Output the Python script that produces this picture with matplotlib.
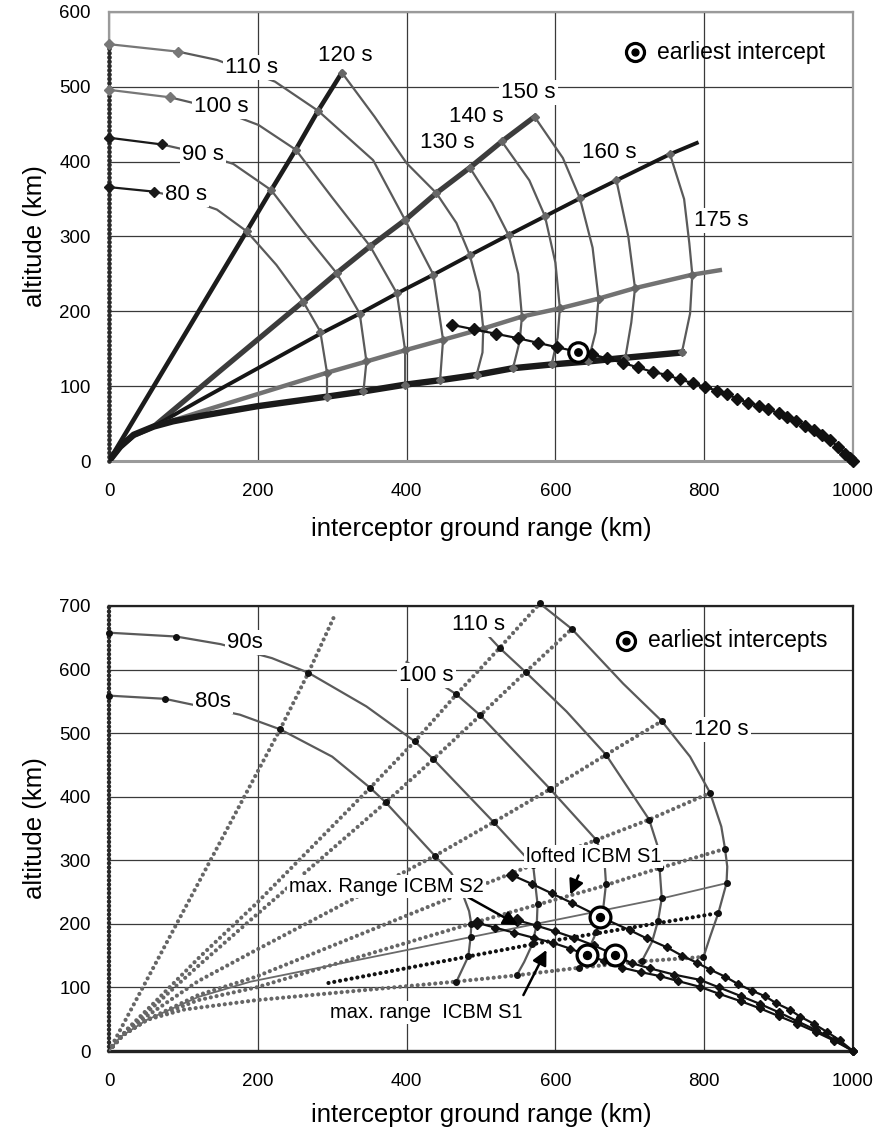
import matplotlib
matplotlib.use("Agg")
import matplotlib.pyplot as plt

plt.rcParams["font.family"] = ["Liberation Sans", "DejaVu Sans"]

# ── top panel: interceptor fly-out rays (km)
t_r0_x = [0, 0]
t_r0_y = [0, 557]
t_r1_x = [0, 185, 218, 251, 281, 313]
t_r1_y = [0, 307, 362, 416, 468, 519]
t_r2_x = [0, 15, 33, 60, 150, 261, 306, 351, 398, 440, 485, 528, 572]
t_r2_y = [0, 19, 34, 46, 121, 213, 251, 287, 322, 358, 392, 427, 460]
t_r3_x = [0, 15, 33, 60, 120, 284, 337, 387, 436, 485, 537, 586, 633, 682, 754, 790]
t_r3_y = [0, 19, 35, 46, 80, 170, 197, 224, 249, 275, 302, 327, 351, 375, 410, 425]
t_r4_x = [0, 15, 33, 60, 130, 293, 346, 398, 449, 503, 555, 606, 658, 707, 784, 821]
t_r4_y = [0, 19, 35, 46, 68, 118, 133, 148, 162, 177, 193, 204, 217, 231, 249, 255]
t_r5_x = [0, 15, 33, 60, 86, 122, 198, 293, 342, 398, 445, 494, 543, 595, 644, 694, 770]
t_r5_y = [0, 19, 35, 46, 53, 60, 73, 86, 93, 102, 108, 115, 124, 129, 133, 138, 145]

# ── top panel: constant-time arcs
t_arcs = {
    "80 s": ([0, 60, 105, 145, 185, 225, 261, 284, 293, 293],
             [366, 360, 350, 336, 307, 262, 213, 173, 118, 86]),
    "90 s": ([0, 71, 120, 167, 218, 262, 306, 337, 346, 342],
             [432, 423, 412, 397, 362, 305, 251, 197, 133, 93]),
    "100 s": ([0, 82, 140, 201, 251, 300, 351, 387, 398, 398],
              [496, 486, 472, 449, 416, 352, 287, 224, 148, 102]),
    "110 s": ([0, 93, 145, 223, 281, 355, 398, 436, 449, 445],
              [557, 547, 536, 507, 468, 402, 322, 249, 162, 108]),
    "120 s": ([313, 357, 400, 440, 467, 485, 498, 503, 502, 494],
              [519, 460, 398, 358, 318, 275, 226, 177, 145, 115]),
    "130 s": ([485, 515, 537, 550, 555, 552, 543],
              [392, 345, 302, 250, 193, 160, 124]),
    "140 s": ([528, 565, 586, 600, 606, 603, 595],
              [427, 375, 327, 265, 204, 165, 129]),
    "150 s": ([572, 610, 633, 650, 658, 654, 644],
              [460, 405, 351, 285, 217, 172, 133]),
    "160 s": ([682, 698, 707, 702, 694],
              [375, 300, 231, 185, 138]),
    "175 s": ([754, 773, 780, 784, 781, 770],
              [410, 350, 291, 249, 197, 145]),
}
t_arc_marks = {
    "80 s": [4, 6, 7, 8, 9], "90 s": [4, 6, 7, 8, 9],
    "100 s": [4, 6, 7, 8, 9], "110 s": [4, 6, 7, 8, 9],
    "120 s": [0, 3, 5, 7, 9], "130 s": [0, 2, 4, 6], "140 s": [0, 2, 4, 6],
    "150 s": [0, 2, 4, 6], "160 s": [0, 2, 4], "175 s": [0, 3, 5],
}
t_from_axis = ["80 s", "90 s", "100 s", "110 s"]
t_lab_pos = {
    "80 s": (103, 356), "90 s": (126, 409), "100 s": (151, 474), "110 s": (192, 526),
    "120 s": (317, 542), "130 s": (454, 425), "140 s": (494, 460), "150 s": (564, 492),
    "160 s": (672, 412), "175 s": (823, 322),
}

# ── top panel: ICBM trajectory
t_icbm_x = [461, 490, 520, 550, 576, 602, 630, 649, 669, 691, 711, 731, 750, 767, 785,
            801, 817, 830, 844, 859, 873, 886, 900, 911, 924, 935, 947, 958, 969, 980,
            989, 996, 1000]
t_icbm_y = [182, 176, 170, 164, 158, 152, 146, 143, 137, 131, 125, 119, 115, 109, 104,
            99, 94, 90, 83, 78, 74, 69, 64, 59, 54, 47, 41, 35, 28, 19, 10, 4, 0]
t_hit = (630, 145)

# ── bottom panel: rays
b_r0_x = [0, 0]
b_r0_y = [0, 700]
b_rays = [
    ([0, 230, 268, 304], [0, 506, 595, 687]),
    ([0, 25, 60, 122, 198, 351, 411, 467, 525, 579], [0, 35, 75, 148, 232, 414, 487, 561, 634, 704]),
    ([0, 25, 60, 122, 198, 372, 436, 499, 560, 622], [0, 33, 70, 136, 214, 391, 459, 528, 596, 664]),
    ([0, 25, 51, 120, 198, 438, 517, 593, 668, 743], [0, 33, 55, 110, 159, 307, 360, 412, 466, 519]),
    ([0, 15, 51, 120, 198, 480, 570, 655, 726, 808], [0, 22, 49, 88, 117, 251, 293, 332, 364, 406]),
    ([0, 15, 51, 120, 198, 500, 660, 735, 828], [0, 22, 49, 80, 100, 205, 258, 286, 318]),
    ([0, 15, 51, 100, 198, 465, 548, 632, 716, 799], [0, 22, 49, 65, 80, 109, 119, 131, 141, 148]),
]
b_thin_x = [0, 15, 51, 120, 190, 743, 830]
b_thin_y = [0, 22, 49, 85, 109, 240, 264]
b_black_x = [295, 579, 819]
b_black_y = [107, 170, 217]

b_arcs = {
    "80s": ([0, 75, 176, 230, 300, 351, 372, 438, 460, 474, 484, 487, 486, 483, 467],
            [559, 554, 529, 506, 463, 414, 391, 307, 280, 251, 220, 199, 179, 149, 109]),
    "90s": ([0, 90, 150, 219, 268, 346, 411, 436, 517, 550, 570, 576, 575, 569, 558, 548],
            [658, 652, 640, 618, 595, 542, 487, 459, 360, 318, 293, 231, 200, 168, 140, 119]),
    "100 s": ([400, 467, 499, 593, 655, 666, 668, 664, 655, 645, 632],
              [612, 561, 528, 412, 332, 298, 263, 221, 187, 160, 131]),
    "110 s": ([498, 525, 560, 615, 668, 726, 738, 740, 743, 738, 730, 716],
              [668, 634, 596, 534, 466, 364, 320, 288, 240, 205, 172, 141]),
    "120 s": ([572, 579, 622, 691, 743, 781, 808, 823, 828, 831, 830, 819, 808, 799],
              [712, 704, 664, 578, 519, 463, 406, 353, 318, 290, 264, 217, 180, 148]),
}
b_arc_marks = {
    "80s": [0, 1, 3, 5, 6, 7, 9, 11, 12, 13, 14],
    "90s": [0, 1, 4, 6, 7, 8, 10, 11, 12, 13, 15],
    "100 s": [1, 2, 3, 4, 6, 7, 8, 10],
    "110 s": [1, 2, 4, 5, 7, 8, 9, 11],
    "120 s": [1, 2, 4, 6, 8, 10, 11, 13],
}
b_lab_pos = {"80s": (140, 550), "90s": (183, 643), "100 s": (427, 590),
             "110 s": (496, 671), "120 s": (823, 506)}

# ── bottom panel: ICBM trajectories
b_loft_x = [541, 568, 595, 622, 660, 700, 723, 750, 770, 790, 808, 828, 846, 864, 882,
            897, 915, 929, 947, 965, 982, 1000]
b_loft_y = [277, 263, 248, 233, 211, 190, 177, 163, 150, 139, 128, 117, 105, 95, 86,
            75, 65, 54, 43, 30, 17, 0]
b_s1_x = [494, 519, 545, 571, 597, 620, 642, 665, 690, 715, 740, 765, 794, 820, 850,
          875, 900, 925, 950, 975, 1000]
b_s1_y = [202, 194, 186, 178, 170, 161, 151, 142, 131, 124, 118, 110, 101, 90, 78,
          67, 55, 43, 30, 16, 0]
b_s2_x = [548, 575, 600, 625, 652, 680, 703, 727, 760, 794, 820, 850, 875, 900, 925,
          950, 975, 1000]
b_s2_y = [206, 197, 188, 178, 166, 151, 138, 130, 120, 112, 100, 86, 74, 61, 47,
          33, 18, 0]
b_hits = [(660, 211), (642, 151), (680, 151)]

GRID = "#3a3a3a"
ARC = "#5a5a5a"
LAB = dict(facecolor="white", edgecolor="none", pad=1.5)


def style_axes(ax, ymax, frame, bottom_lw, xlabelpad):
    ax.set_xlim(0, 1000)
    ax.set_ylim(0, ymax)
    ax.set_xticks(range(0, 1001, 200))
    ax.set_yticks(range(0, ymax + 1, 100))
    ax.grid(color=GRID, lw=0.9)
    ax.set_axisbelow(True)
    ax.tick_params(length=0, labelsize=13.5)
    ax.tick_params(axis="x", pad=16)
    ax.tick_params(axis="y", pad=13)
    for s in ax.spines.values():
        s.set_color(frame)
        s.set_linewidth(1.6)
    ax.spines["bottom"].set_linewidth(bottom_lw)
    ax.set_xlabel("interceptor ground range (km)", fontsize=18.5, labelpad=xlabelpad)
    ax.set_ylabel("altitude (km)", fontsize=18.5, labelpad=9)


def ring(ax, x, y, size):
    ax.plot(x, y, "o", ms=size, mfc="white", mec="black", mew=2.3, zorder=12)
    ax.plot(x, y, "o", ms=size * 0.38, color="black", zorder=13)


fig = plt.figure(figsize=(8.8, 11.35), dpi=100)

# ─── TOP ─────────────────────────────────────────────────────────────────────
ax1 = fig.add_axes([109 / 880, 674 / 1135, 744 / 880, 449 / 1135])
style_axes(ax1, 600, "#9a9a9a", 2.2, 12)

ax1.plot(t_r0_x, t_r0_y, color="#2a2a2a", lw=3.4, ls=(0, (0.01, 0.9)),
         dash_capstyle="round", zorder=4, clip_on=False)
ax1.plot(t_r1_x, t_r1_y, color="#1c1c1c", lw=3.3, zorder=4)
ax1.plot(t_r2_x, t_r2_y, color="#3c3c3c", lw=3.8, zorder=4)
ax1.plot(t_r3_x, t_r3_y, color="#161616", lw=2.8, zorder=4)
ax1.plot(t_r4_x, t_r4_y, color="#727272", lw=3.2, zorder=4)
ax1.plot(t_r5_x, t_r5_y, color="#1a1a1a", lw=4.6, zorder=4)

for lab, (xs, ys) in t_arcs.items():
    if lab in t_from_axis:
        c = "#1a1a1a" if lab in ("80 s", "90 s") else "#777777"
        ax1.plot(xs[:2], ys[:2], color=c, lw=1.6, marker="D", ms=5, zorder=5, clip_on=False)
        ax1.plot(xs[1:], ys[1:], color=ARC, lw=1.6, zorder=3)
    else:
        ax1.plot(xs, ys, color=ARC, lw=1.6, zorder=3)
    mk = t_arc_marks[lab]
    ax1.plot([xs[i] for i in mk], [ys[i] for i in mk], "D", color="#666666", ms=4, zorder=5)
    tx, ty = t_lab_pos[lab]
    ax1.text(tx, ty, lab, fontsize=16, ha="center", va="center", bbox=LAB, zorder=10)

ax1.plot(t_icbm_x, t_icbm_y, color="#111111", lw=1.6, marker="D", ms=6.5, zorder=6,
         clip_on=False)
ring(ax1, *t_hit, 14)

ring(ax1, 707, 546, 13)
ax1.text(736, 546, "earliest intercept", fontsize=16.5, va="center", zorder=10)

# ─── BOTTOM ──────────────────────────────────────────────────────────────────
ax2 = fig.add_axes([109 / 880, 84 / 1135, 744 / 880, 445 / 1135])
style_axes(ax2, 700, "#222222", 2.4, 9)

ax2.plot(b_r0_x, b_r0_y, color="#2a2a2a", lw=3.2, ls=(0, (0.01, 0.95)),
         dash_capstyle="round", zorder=4, clip_on=False)
for xs, ys in b_rays:
    ax2.plot(xs, ys, color="#666666", lw=3.0, ls=(0, (0.01, 1.4)),
             dash_capstyle="round", zorder=4)
ax2.plot(b_thin_x, b_thin_y, color="#6a6a6a", lw=1.3, zorder=4)
ax2.plot(b_black_x, b_black_y, color="#111111", lw=3.0, ls=(0, (0.01, 1.4)),
         dash_capstyle="round", zorder=4)

for lab, (xs, ys) in b_arcs.items():
    ax2.plot(xs, ys, color=ARC, lw=1.6, zorder=3)
    mk = b_arc_marks[lab]
    ax2.plot([xs[i] for i in mk], [ys[i] for i in mk], "o", color="#111111", ms=4,
             zorder=5, clip_on=False)
    tx, ty = b_lab_pos[lab]
    ax2.text(tx, ty, lab, fontsize=16, ha="center", va="center", bbox=LAB, zorder=10)

for xs, ys in ((b_loft_x, b_loft_y), (b_s1_x, b_s1_y), (b_s2_x, b_s2_y)):
    ax2.plot(xs, ys, color="#111111", lw=1.6, marker="D", ms=4.5, zorder=6, clip_on=False)
    ax2.plot(xs[0], ys[0], "D", color="#111111", ms=6, zorder=6)
for hx, hy in b_hits:
    ring(ax2, hx, hy, 15)

arrow = dict(arrowstyle="-|>", color="black", lw=1.8, mutation_scale=22, shrinkA=0, shrinkB=0)
ax2.annotate("", xy=(620, 246), xytext=(631, 276), arrowprops=arrow, zorder=9)
ax2.annotate("", xy=(550, 198), xytext=(481, 243), arrowprops=arrow, zorder=9)
ax2.annotate("", xy=(588, 159), xytext=(557, 88), arrowprops=arrow, zorder=9)
ax2.text(651, 306, "lofted ICBM S1", fontsize=14.5, ha="center", va="center", bbox=LAB, zorder=10)
ax2.text(373, 259, "max. Range ICBM S2", fontsize=14.5, ha="center", va="center", bbox=LAB, zorder=10)
ax2.text(427, 60, "max. range  ICBM S1", fontsize=14.5, ha="center", va="center", bbox=LAB, zorder=10)

ring(ax2, 695, 645, 13)
ax2.text(725, 645, "earliest intercepts", fontsize=16.5, va="center", zorder=10)

fig.savefig("out.png", dpi=100, facecolor="white")
